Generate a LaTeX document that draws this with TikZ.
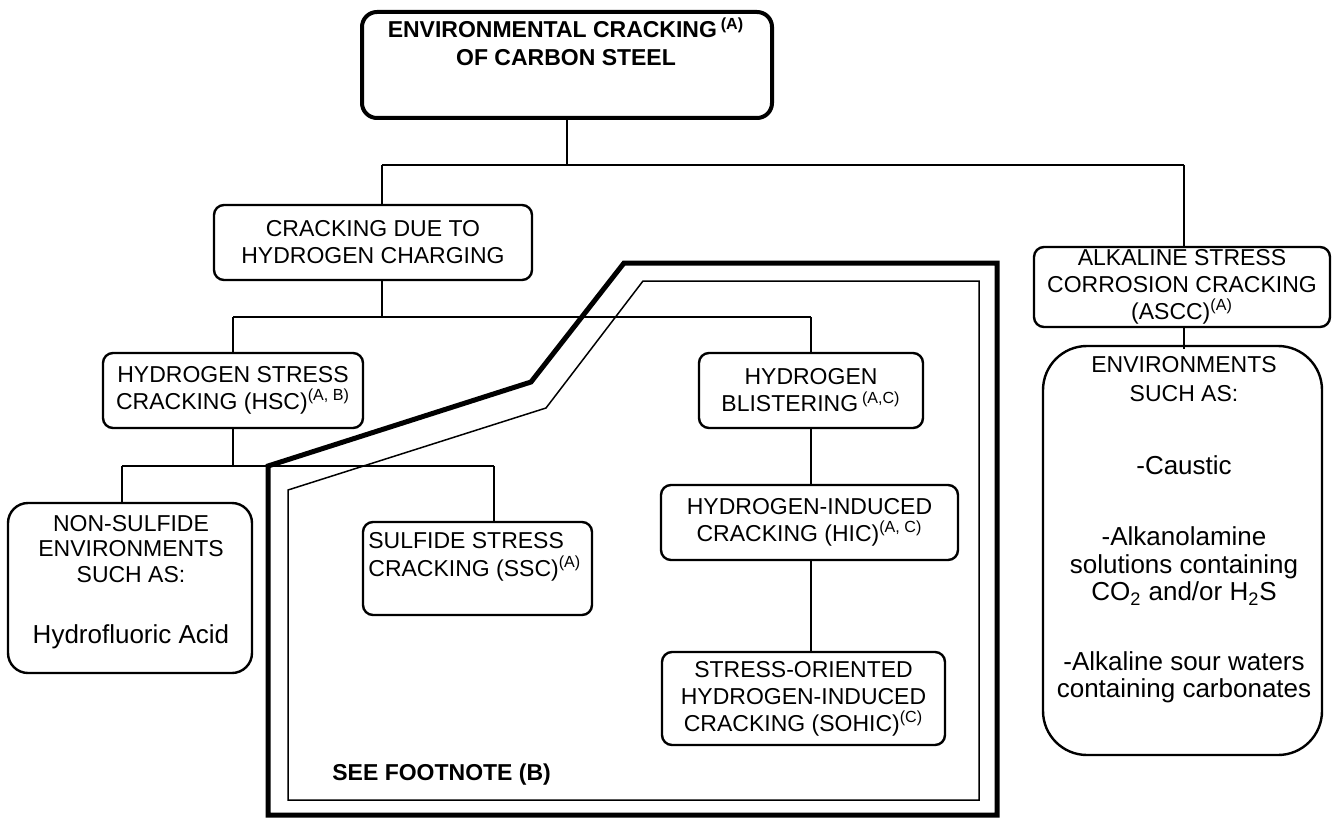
\documentclass[tikz,border=0pt]{standalone}
\usepackage{fontspec}
\setmainfont{Liberation Sans}
\usetikzlibrary{calc}

\newcommand{\labfont}{\fontsize{11.5}{13.5}\selectfont}
\newcommand{\txtfont}{\fontsize{13}{13.75}\selectfont}
\newcommand{\refsup}[1]{\textsuperscript{#1}}

\begin{document}
\begin{tikzpicture}[x=0.5pt,y=-0.5pt,
  box/.style={draw, line width=1.2pt, rounded corners=5pt, inner sep=0pt, align=center, font=\labfont},
  link/.style={line width=0.75pt},
  txt/.style={inner sep=0pt, align=center}]

\useasboundingbox (0,0) rectangle (1336,818);

% ===== FRAMES (FOOTNOTE B) =====
\draw[line width=2.5pt] (624,263) -- (997,263) -- (997,815) -- (268,815) -- (268,466) -- (531,382) -- cycle;
\draw[line width=0.75pt] (643,281) -- (979,281) -- (979,800) -- (288,800) -- (288,490) -- (546,408) -- cycle;
\node[txt, anchor=west, font=\labfont\bfseries] (footB) at (332,775) {SEE FOOTNOTE (B)};

% ===== TOP BOX =====
\node[box, line width=2pt, rounded corners=7.5pt, minimum width=205pt, minimum height=53pt] (title) at (567,65) {};
\node[txt, anchor=north, font=\fontsize{11.5}{14}\selectfont\bfseries] (titleText) at (566,17) {ENVIRONMENTAL CRACKING\,\refsup{(A)}\\OF CARBON STEEL};

% ===== SECOND ROW =====
\node[box, minimum width=159pt, minimum height=37.5pt] (crk) at (373,242.5) {CRACKING DUE TO\\HYDROGEN CHARGING};
\node[box, minimum width=148pt, minimum height=40pt] (asc) at (1182,287) {ALKALINE STRESS\\CORROSION CRACKING\\(ASCC)\refsup{(A)}};

% ===== THIRD ROW =====
\node[box, minimum width=130pt, minimum height=37.5pt] (hsc) at (233,390.5) {HYDROGEN STRESS\\CRACKING (HSC)\refsup{(A, B)}};
\node[box, minimum width=112pt, minimum height=37.5pt] (hbl) at (811,390.5) {HYDROGEN\\BLISTERING\,\refsup{(A,C)}};

% ===== LOWER BOXES =====
\node[box, minimum width=148.5pt, minimum height=37.5pt] (hic) at (809.5,522.5) {HYDROGEN-INDUCED\\CRACKING (HIC)\refsup{(A, C)}};
\node[box, minimum width=141.5pt, minimum height=46.5pt] (soh) at (803.5,698.5) {STRESS-ORIENTED\\HYDROGEN-INDUCED\\CRACKING (SOHIC)\refsup{(C)}};

\node[box, rounded corners=10pt, minimum width=122pt, minimum height=85pt] (nsf) at (130,588) {};
\node[txt, anchor=north, font=\fontsize{11.5}{12.75}\selectfont] (nsfHead) at (131,515) {NON-SULFIDE\\ENVIRONMENTS\\SUCH AS:};
\node[txt, anchor=north, font=\txtfont] (nsfList) at (131,624) {Hydrofluoric Acid};

\node[box, minimum width=114.5pt, minimum height=46.5pt] (ssc) at (477.5,568.5) {};
\node[txt, anchor=north west, align=left, font=\fontsize{11.5}{14}\selectfont] (sscText) at (368,532) {SULFIDE STRESS\\CRACKING (SSC)\refsup{(A)}};

\node[box, rounded corners=22pt, minimum width=139.5pt, minimum height=204.5pt] (env) at (1182.5,550.5) {};
\node[txt, anchor=north, font=\fontsize{11.5}{14.5}\selectfont] (envHead) at (1184,356) {ENVIRONMENTS\\SUCH AS:};
\node[txt, anchor=north, font=\txtfont] (envList) at (1184,455) {-Caustic\\[22pt]-Alkanolamine\\solutions containing\\CO\textsubscript{2} and/or H\textsubscript{2}S\\[21pt]-Alkaline sour waters\\containing carbonates};

% ===== CONNECTORS =====
\coordinate (jTop) at (567,165);
\coordinate (jCrk) at (382,165);
\coordinate (jAsc) at (1184,165);
\draw[link] (title.south) -- (jTop);
\draw[link] (jCrk) -- (jAsc);
\draw[link] (jCrk) -- (jCrk |- crk.north);
\draw[link] (jAsc) -- (jAsc |- asc.north);

\coordinate (jMid) at (382,317);
\coordinate (jHsc) at (233,317);
\coordinate (jHbl) at (811,317);
\draw[link] (jMid |- crk.south) -- (jMid);
\draw[link] (jHsc) -- (jHbl);
\draw[link] (jHsc) -- (hsc.north);
\draw[link] (jHbl) -- (hbl.north);

\coordinate (jLow) at (233,466);
\coordinate (jNsf) at (122,466);
\coordinate (jSsc) at (494,466);
\draw[link] (hsc.south) -- (jLow);
\draw[link] (jNsf) -- (jSsc);
\draw[link] (jNsf) -- (jNsf |- nsf.north);
\draw[link] (jSsc) -- (jSsc |- ssc.north);

\draw[link] (hbl.south) -- (hbl.south |- hic.north);
\draw[link] (hbl.south |- hic.south) -- (hbl.south |- soh.north);
\draw[link] (jAsc |- asc.south) -- ($(jAsc |- env.north)+(0,4)$);

\end{tikzpicture}
\end{document}
